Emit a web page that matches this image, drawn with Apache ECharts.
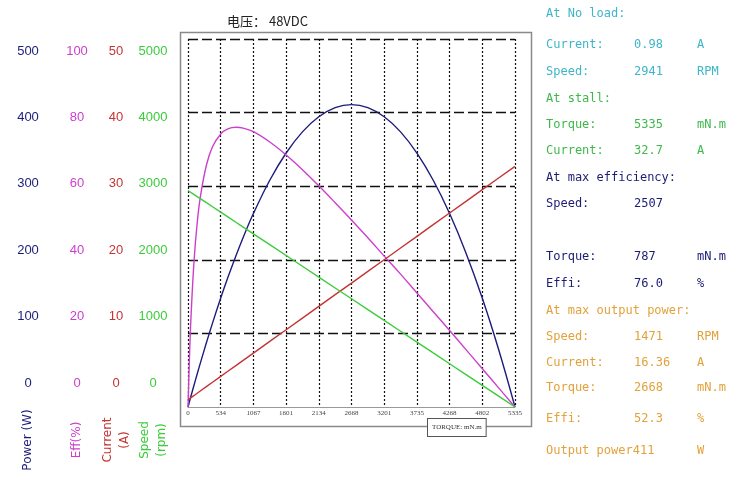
<!DOCTYPE html>
<html>
<head>
<meta charset="utf-8">
<script src="https://cdn.jsdelivr.net/npm/echarts@6/dist/echarts.min.js"></script>
<style>
html,body{margin:0;padding:0;background:#fff;}
#chart{width:750px;height:489px;}
</style>
</head>
<body>
<div id="chart"></div>
<script>
// ---- data ----
const torque  = [0, 25, 50, 100, 150, 200, 300, 400, 534, 650, 787, 900, 1067, 1334, 1601, 1867, 2134, 2401, 2668, 2934, 3201, 3468, 3735, 4001, 4268, 4535, 4802, 5068, 5335];
const powerW  = [0, 7.7, 15.3, 30.2, 44.9, 59.3, 87.2, 114.0, 148.0, 175.8, 206.6, 230.4, 262.9, 308.1, 345.1, 373.8, 394.3, 406.7, 410.9, 406.7, 394.3, 373.8, 345.0, 308.1, 262.9, 209.4, 147.8, 78.1, 0];
const effPct  = [0, 14.1, 24.9, 40.0, 50.0, 56.9, 65.7, 70.7, 74.2, 75.6, 76.0, 75.8, 74.8, 72.0, 68.5, 64.5, 60.1, 55.5, 50.8, 46.0, 41.0, 36.1, 31.0, 25.9, 20.8, 15.6, 10.4, 5.2, 0];
const currentA = [0.98, 1.13, 1.28, 1.57, 1.87, 2.17, 2.76, 3.36, 4.16, 4.85, 5.66, 6.33, 7.32, 8.91, 10.50, 12.08, 13.67, 15.26, 16.84, 18.42, 20.01, 21.60, 23.19, 24.77, 26.36, 27.94, 29.53, 31.11, 32.70];
const speedRpm = [2941, 2927, 2913, 2886, 2858, 2831, 2776, 2721, 2647, 2583, 2507, 2445, 2353, 2206, 2058, 1912, 1765, 1617, 1471, 1324, 1176, 1029, 882, 735, 588, 441, 294, 147, 0];

const torqueTicks = ['0','534','1067','1601','2134','2668','3201','3735','4268','4802','5335'];
const powerTicks   = ['0','100','200','300','400','500'];
const effTicks     = ['0','20','40','60','80','100'];
const currentTicks = ['0','10','20','30','40','50'];
const speedTicks   = ['0','1000','2000','3000','4000','5000'];
const axisNames    = ['Power (W)', 'Eff(%)', 'Current\n(A)', 'Speed\n(rpm)'];

const titleText = '电压： 48VDC';
const torqueUnit = 'TORQUE: mN.m';

const panelRows = [
  ['At No load:', '', '', 'noload'],
  ['Current:', '0.98', 'A', 'noload'],
  ['Speed:', '2941', 'RPM', 'noload'],
  ['At stall:', '', '', 'stall'],
  ['Torque:', '5335', 'mN.m', 'stall'],
  ['Current:', '32.7', 'A', 'stall'],
  ['At max efficiency:', '', '', 'maxeff'],
  ['Speed:', '2507', '', 'maxeff'],
  ['Torque:', '787', 'mN.m', 'maxeff'],
  ['Effi:', '76.0', '%', 'maxeff'],
  ['At max output power:', '', '', 'maxpow'],
  ['Speed:', '1471', 'RPM', 'maxpow'],
  ['Current:', '16.36', 'A', 'maxpow'],
  ['Torque:', '2668', 'mN.m', 'maxpow'],
  ['Effi:', '52.3', '%', 'maxpow'],
  ['Output power', '411', 'W', 'maxpow']
];

// ---- layout / style ----
const panelY = [14, 45, 72, 99, 125, 151, 178, 204, 257, 284, 311, 337, 363, 388, 419, 451];
const panelColors = {noload:'#3db6c9', stall:'#3fb84c', maxeff:'#1c1c74', maxpow:'#e2a23a'};
const C_POWER = '#1c1c7c', C_EFF = '#cc3fcc', C_CUR = '#c43434', C_SPD = '#3ccc3c';
const colCenters = [28, 77, 116, 153];
const colColors = [C_POWER, C_EFF, C_CUR, C_SPD];

const zip = (a, b) => a.map((v, i) => [v, b[i]]);

const graphics = [
  {type:'rect', left:178, top:30, shape:{width:351, height:394}, style:{fill:'none', stroke:'#8a8a8a', lineWidth:1.5}, z:-1},
  {type:'text', left:427, top:418, style:{text:torqueUnit, font:'7px "Liberation Serif", serif', fill:'#333',
    backgroundColor:'#fff', borderColor:'#555', borderWidth:1, padding:[5,4,5,4]}, z:10}
];
axisNames.forEach((n, i) => {
  graphics.push({type:'text', x:colCenters[i], y:440, rotation:Math.PI/2,
    style:{text:n, font:'12px "DejaVu Sans", sans-serif', fill:colColors[i], align:'center', verticalAlign:'middle', lineHeight:17}});
});
const mono = '12px "DejaVu Sans Mono", monospace';
panelRows.forEach((r, i) => {
  const col = panelColors[r[3]];
  const y = panelY[i];
  const labelText = (r[0] === 'Output power') ? r[0] + r[1] : r[0];
  graphics.push({type:'text', x:546, y:y, style:{text:labelText, font:mono, fill:col, verticalAlign:'middle'}});
  if (r[1] && r[0] !== 'Output power') graphics.push({type:'text', x:634, y:y, style:{text:r[1], font:mono, fill:col, verticalAlign:'middle'}});
  if (r[2]) graphics.push({type:'text', x:697, y:y, style:{text:r[2], font:mono, fill:col, verticalAlign:'middle'}});
});

function labelAxis(ticks, max, idx) {
  return {
    type:'value', gridIndex:1, position:'left', min:0, max:max, interval:max/5,
    offset: 170 - colCenters[idx],
    axisLine:{show:false}, axisTick:{show:false}, splitLine:{show:false},
    axisLabel:{color:colColors[idx], fontSize:13, fontFamily:'"Liberation Sans", Arial, sans-serif', margin:0, align:'center',
      formatter:(v, i) => ticks[i]}
  };
}

const option = {
  animation:false,
  backgroundColor:'#fff',
  title:{text:titleText, left:222, top:10, textStyle:{fontSize:13, fontWeight:'normal', color:'#222', fontFamily:'"Noto Sans CJK SC", sans-serif'}},
  grid:[
    {left:188, top:39, width:327, height:368},
    {left:170, top:51, width:10, height:332}
  ],
  xAxis:[
    {type:'value', gridIndex:0, min:0, max:5335, interval:533.5,
      axisLine:{show:true, lineStyle:{color:'#999', width:1}}, axisTick:{show:false},
      axisLabel:{fontSize:7, color:'#444', fontFamily:'"Liberation Serif", serif', margin:3, formatter:(v, i) => torqueTicks[i]},
      splitLine:{show:true, lineStyle:{color:'#111', type:[2,2], width:1.2}}},
    {type:'value', gridIndex:1, show:false, min:0, max:1}
  ],
  yAxis:[
    {type:'value', gridIndex:0, min:0, max:500, interval:100, axisLine:{show:false}, axisTick:{show:false}, axisLabel:{show:false},
      splitLine:{show:true, showMinLine:false, lineStyle:{color:'#111', type:[10,4], width:1.3}}},
    {type:'value', gridIndex:0, min:0, max:100, show:false, splitLine:{show:false}},
    {type:'value', gridIndex:0, min:0, max:50, show:false, splitLine:{show:false}},
    {type:'value', gridIndex:0, min:0, max:5000, show:false, splitLine:{show:false}},
    labelAxis(powerTicks, 500, 0),
    labelAxis(effTicks, 100, 1),
    labelAxis(currentTicks, 50, 2),
    labelAxis(speedTicks, 5000, 3)
  ],
  series:[
    {name:'Power', type:'line', xAxisIndex:0, yAxisIndex:0, data:zip(torque, powerW), smooth:0.4, showSymbol:false, lineStyle:{color:C_POWER, width:1.4}},
    {name:'Eff', type:'line', xAxisIndex:0, yAxisIndex:1, data:zip(torque, effPct), smooth:0.4, showSymbol:false, lineStyle:{color:C_EFF, width:1.4}},
    {name:'Current', type:'line', xAxisIndex:0, yAxisIndex:2, data:zip(torque, currentA), showSymbol:false, lineStyle:{color:C_CUR, width:1.4}},
    {name:'Speed', type:'line', xAxisIndex:0, yAxisIndex:3, data:zip(torque, speedRpm), showSymbol:false, lineStyle:{color:C_SPD, width:1.4}}
  ],
  graphic:graphics
};

const chart = echarts.init(document.getElementById('chart'), null, {renderer:'canvas'});
chart.setOption(option);
</script>
</body>
</html>
